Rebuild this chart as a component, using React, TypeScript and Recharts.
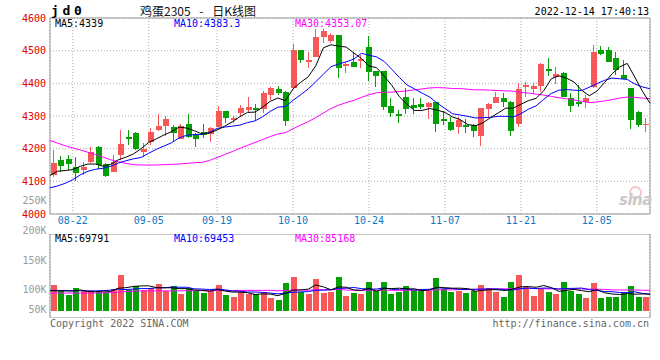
import React from "react";
import {
  ComposedChart,
  Bar,
  Line,
  XAxis,
  YAxis,
  CartesianGrid,
  ReferenceArea,
} from "recharts";

const UP = "#f65858";
const DOWN = "#06a006";
const MONO = "'DejaVu Sans Mono', monospace";

const dates = [
  "08-17", "08-18", "08-19", "08-22", "08-23", "08-24", "08-25", "08-26", "08-29", "08-30",
  "08-31", "09-01", "09-02", "09-05", "09-06", "09-07", "09-08", "09-09", "09-13", "09-14",
  "09-15", "09-16", "09-19", "09-20", "09-21", "09-22", "09-23", "09-26", "09-27", "09-28",
  "09-29", "09-30", "10-10", "10-11", "10-12", "10-13", "10-14", "10-17", "10-18", "10-19",
  "10-20", "10-21", "10-24", "10-25", "10-26", "10-27", "10-28", "10-31", "11-01", "11-02",
  "11-03", "11-04", "11-07", "11-08", "11-09", "11-10", "11-11", "11-14", "11-15", "11-16",
  "11-17", "11-18", "11-21", "11-22", "11-23", "11-24", "11-25", "11-28", "11-29", "11-30",
  "12-01", "12-02", "12-05", "12-06", "12-07", "12-08", "12-09", "12-12", "12-13", "12-14",
];

const opens = [
  4119, 4165, 4169, 4143, 4135, 4159, 4205, 4153, 4130, 4181,
  4236, 4249, 4191, 4219, 4257, 4269, 4265, 4231, 4274, 4245,
  4250, 4245, 4267, 4316, 4288, 4310, 4318, 4323, 4320, 4364,
  4383, 4374, 4387, 4502, 4466, 4482, 4541, 4531, 4548, 4453,
  4466, 4469, 4512, 4439, 4439, 4331, 4306, 4357, 4334, 4337,
  4327, 4342, 4290, 4281, 4265, 4272, 4272, 4240, 4320, 4341,
  4354, 4344, 4276, 4390, 4383, 4393, 4444, 4418, 4431, 4354,
  4344, 4344, 4390, 4502, 4502, 4479, 4426, 4385, 4313, 4272,
];

const highs = [
  4196, 4178, 4181, 4173, 4159, 4206, 4208, 4155, 4181, 4257,
  4257, 4252, 4216, 4262, 4306, 4300, 4272, 4274, 4306, 4249,
  4276, 4265, 4331, 4316, 4300, 4334, 4357, 4336, 4377, 4390,
  4393, 4377, 4520, 4502, 4495, 4566, 4566, 4553, 4548, 4466,
  4497, 4487, 4545, 4439, 4439, 4354, 4318, 4385, 4354, 4354,
  4344, 4344, 4316, 4296, 4298, 4291, 4276, 4326, 4339, 4374,
  4369, 4347, 4400, 4405, 4402, 4463, 4477, 4449, 4436, 4369,
  4395, 4364, 4517, 4514, 4512, 4497, 4471, 4387, 4316, 4293,
];

const lows = [
  4114, 4130, 4135, 4102, 4119, 4155, 4137, 4114, 4128, 4165,
  4211, 4196, 4176, 4211, 4255, 4239, 4221, 4231, 4232, 4204,
  4232, 4221, 4265, 4278, 4278, 4298, 4313, 4286, 4308, 4349,
  4364, 4269, 4385, 4461, 4446, 4480, 4522, 4522, 4417, 4431,
  4451, 4446, 4408, 4390, 4318, 4298, 4280, 4306, 4306, 4320,
  4291, 4252, 4272, 4255, 4245, 4249, 4237, 4209, 4293, 4339,
  4327, 4239, 4267, 4357, 4367, 4374, 4422, 4397, 4359, 4313,
  4327, 4323, 4385, 4487, 4464, 4426, 4412, 4260, 4267, 4252,
];

const closes = [
  4157, 4147, 4153, 4127, 4145, 4191, 4150, 4117, 4159, 4214,
  4231, 4200, 4198, 4252, 4269, 4291, 4249, 4270, 4235, 4231,
  4242, 4263, 4316, 4295, 4295, 4323, 4327, 4318, 4371, 4387,
  4371, 4286, 4502, 4471, 4471, 4541, 4560, 4548, 4448, 4458,
  4451, 4473, 4436, 4423, 4329, 4308, 4301, 4320, 4326, 4329,
  4339, 4274, 4285, 4257, 4288, 4267, 4255, 4326, 4337, 4359,
  4344, 4255, 4383, 4395, 4392, 4459, 4439, 4429, 4359, 4332,
  4336, 4356, 4497, 4489, 4466, 4441, 4413, 4288, 4272, 4276,
];

const ma5 = [
  4118, 4131, 4133, 4136, 4146, 4153, 4153, 4146, 4152, 4166,
  4174, 4184, 4200, 4219, 4230, 4242, 4252, 4266, 4263, 4255,
  4245, 4248, 4257, 4269, 4282, 4298, 4311, 4312, 4327, 4345,
  4355, 4347, 4383, 4403, 4420, 4454, 4509, 4518, 4514, 4511,
  4493, 4476, 4453, 4448, 4422, 4394, 4359, 4336, 4317, 4317,
  4323, 4318, 4311, 4297, 4289, 4274, 4270, 4279, 4295, 4309,
  4324, 4324, 4336, 4347, 4354, 4377, 4414, 4423, 4416, 4404,
  4379, 4362, 4376, 4402, 4429, 4450, 4461, 4419, 4376, 4339,
];

const ma10 = [
  4080, 4086, 4094, 4105, 4120, 4131, 4137, 4140, 4146, 4156,
  4163, 4169, 4173, 4186, 4198, 4208, 4218, 4233, 4241, 4243,
  4244, 4250, 4262, 4266, 4269, 4272, 4280, 4285, 4298, 4314,
  4327, 4329, 4348, 4365, 4383, 4405, 4428, 4451, 4459, 4466,
  4474, 4492, 4486, 4481, 4467, 4443, 4418, 4395, 4383, 4370,
  4358, 4339, 4323, 4307, 4303, 4299, 4294, 4295, 4296, 4299,
  4299, 4297, 4307, 4321, 4331, 4351, 4369, 4379, 4381, 4379,
  4378, 4388, 4399, 4409, 4416, 4414, 4412, 4398, 4389, 4383.3,
];

const ma30 = [
  4225, 4217, 4209, 4202, 4196, 4189, 4182, 4174, 4166, 4160,
  4155, 4151, 4150, 4150, 4150, 4151, 4152, 4153, 4155, 4157,
  4158, 4164, 4173, 4182, 4191, 4201, 4210, 4219, 4228, 4237,
  4245, 4249, 4261, 4272, 4283, 4295, 4309, 4323, 4333, 4341,
  4348, 4357, 4365, 4371, 4373, 4373, 4375, 4377, 4380, 4383,
  4386, 4387, 4386, 4384, 4384, 4382, 4380, 4380, 4379, 4378,
  4377, 4376, 4372, 4370, 4367, 4364, 4360, 4356, 4353, 4349,
  4345, 4341, 4343, 4346, 4350, 4355, 4358, 4357, 4355, 4353.07,
];

const volumes = [
  107000, 83000, 66000, 95000, 83000, 77000, 77000, 77000, 91000, 149000,
  87000, 103000, 87000, 94000, 112000, 83000, 103000, 70000, 94000, 83000,
  76000, 83000, 107000, 66000, 58000, 77000, 70000, 70000, 78000, 54000,
  45000, 116000, 140000, 80000, 70000, 132000, 76000, 80000, 140000, 62000,
  74000, 70000, 120000, 83000, 120000, 70000, 78000, 103000, 87000, 83000,
  83000, 136000, 91000, 78000, 83000, 74000, 83000, 107000, 95000, 78000,
  58000, 120000, 149000, 99000, 63000, 95000, 78000, 70000, 120000, 83000,
  70000, 54000, 116000, 54000, 58000, 58000, 74000, 103000, 58000, 58000,
];

const volMa5 = [
  84000, 83000, 83000, 82000, 86800, 80800, 79600, 81800, 81000, 94200,
  96200, 101400, 103400, 104000, 96600, 95800, 95800, 92400, 92400, 86600,
  85200, 81200, 88600, 83000, 78000, 78200, 75600, 68200, 70600, 69800,
  63400, 72600, 86600, 87000, 90200, 107600, 99600, 87600, 99600, 98000,
  86400, 85200, 93200, 81800, 93400, 92600, 94200, 90800, 91600, 84200,
  86800, 98400, 96000, 94200, 94200, 92400, 81800, 85000, 88400, 87400,
  84200, 91600, 100000, 100800, 97800, 105200, 96800, 81000, 85200, 89200,
  84200, 79400, 88600, 75400, 70400, 68000, 72000, 69400, 70200, 69791,
];

const volMa10 = [
  85000, 85000, 84000, 84000, 84000, 83000, 83000, 84000, 86000, 90500,
  88500, 90500, 92600, 92500, 95400, 96000, 98600, 97900, 98200, 91600,
  90500, 88500, 90500, 87700, 82300, 81700, 78400, 78400, 76800, 73900,
  70800, 74100, 77400, 78800, 80000, 85500, 86100, 87100, 93300, 94100,
  97000, 92400, 90400, 90700, 95700, 89500, 89700, 92000, 86700, 88800,
  89700, 96300, 93400, 92900, 89200, 89600, 90100, 90500, 91300, 90800,
  88300, 86700, 92500, 94600, 92600, 94700, 94200, 90500, 93000, 93500,
  94700, 88100, 84800, 80300, 79800, 76100, 75700, 79000, 72800, 69453,
];

const volMa30 = [
  74000, 74000, 74000, 74000, 74000, 74000, 74000, 75000, 76000, 78000,
  80000, 82000, 83000, 83000, 83000, 83000, 83000, 83000, 84000, 84000,
  84000, 84000, 84000, 84000, 84000, 85000, 85000, 85000, 85000, 85300,
  83300, 84400, 86800, 86300, 85900, 87700, 87700, 87800, 89400, 86500,
  86100, 85000, 86100, 85700, 86000, 85600, 84700, 85800, 85600, 85600,
  85800, 87600, 87100, 87500, 88300, 88200, 88600, 89900, 90400, 91200,
  91700, 91800, 92100, 92700, 92500, 91300, 91300, 91000, 90300, 91000,
  90900, 90400, 90200, 89300, 87200, 86800, 86700, 86700, 85700, 85168,
];

// indices into dates where the date labels / vertical grid lines sit
const tickIdx = [3, 13, 22, 32, 42, 52, 62, 72];
const priceTicks = [4000, 4100, 4200, 4300, 4400, 4500, 4600];
const volGridTicks = [57750, 144500, 231250];
const volAxisLabels = ["250K", "200K", "150K", "100K", "50K"];
const volAxisLabelY = [201, 231, 261, 290, 310];

const rows = dates.map((date, i) => ({
  idx: i,
  date,
  open: opens[i],
  high: highs[i],
  low: lows[i],
  close: closes[i],
  range: [lows[i], highs[i]],
  vol: volumes[i],
  ma5: ma5[i],
  ma10: ma10[i],
  ma30: ma30[i],
  vma5: volMa5[i],
  vma10: volMa10[i],
  vma30: volMa30[i],
}));

const Candle = (props: any) => {
  const { x, y, width, height, payload } = props;
  if (!payload || height == null) return null;
  const { open, close, high, low } = payload;
  const color = close >= open ? UP : DOWN;
  const k = high === low ? 0 : height / (high - low);
  const top = y + (high - Math.max(open, close)) * k;
  const bot = y + (high - Math.min(open, close)) * k;
  const left = Math.floor(x);
  const w = Math.round(width);
  const cx = left + 2.5;
  return (
    <g shapeRendering="crispEdges">
      <line x1={cx} x2={cx} y1={y} y2={y + height} stroke={color} strokeWidth={1} />
      <rect x={left} y={top} width={w} height={Math.max(1, bot - top)} fill={color} />
    </g>
  );
};

const VolBar = (props: any) => {
  const { x, y, width, height, payload } = props;
  if (!payload || height == null) return null;
  const color = payload.close >= payload.open ? UP : DOWN;
  return (
    <rect
      x={Math.floor(x)}
      y={y}
      width={Math.round(width)}
      height={height}
      fill={color}
      shapeRendering="crispEdges"
    />
  );
};

const Txt = ({
  x,
  y,
  color = "#000",
  size = 10,
  anchor = "start",
  font = MONO,
  bold = false,
  style = {},
  children,
}: any) => (
  <div
    style={{
      position: "absolute",
      left: x,
      top: y,
      transform: `translate(${anchor === "end" ? "-100%" : "0"}, -50%)`,
      color,
      fontSize: size,
      lineHeight: `${size}px`,
      fontFamily: font,
      fontWeight: bold ? 700 : 400,
      whiteSpace: "pre",
      ...style,
    }}
  >
    {children}
  </div>
);

const gridStroke = "#aaa";
const borderStroke = "#999";

export default function App() {
  return (
    <div
      style={{
        position: "absolute",
        left: 0,
        top: 0,
        width: 660,
        height: 360,
        background: "#fff",
        overflow: "hidden",
      }}
    >
      <div style={{ position: "absolute", left: 0, top: 0 }}>
        <ComposedChart
          width={660}
          height={230}
          data={rows}
          margin={{ top: 18, right: 10, bottom: 0, left: 0 }}
        >
          <CartesianGrid xAxisId="l" stroke={gridStroke} strokeDasharray="1 2" />
          <XAxis
            xAxisId="l"
            dataKey="idx"
            type="number"
            domain={[0, 79]}
            ticks={tickIdx}
            interval={0}
            tickFormatter={(v: number) => dates[v]}
            height={16}
            axisLine={false}
            tickLine={false}
            tickSize={0}
            tickMargin={3}
            tick={{ fill: "#0a78c8", fontSize: 10, fontFamily: MONO }}
          />
          <XAxis xAxisId="c" dataKey="date" type="category" hide height={0} tick={false} />
          <YAxis
            domain={[4000, 4600]}
            ticks={priceTicks}
            width={50}
            axisLine={false}
            tickLine={false}
            tickSize={0}
            tickMargin={4}
            allowDataOverflow
            tick={{ fill: "#e00000", fontSize: 10, fontFamily: MONO }}
          />
          <ReferenceArea
            xAxisId="l"
            x1={0}
            x2={79}
            y1={4000}
            y2={4600}
            fill="none"
            stroke={borderStroke}
            ifOverflow="visible"
          />
          <Bar
            xAxisId="c"
            dataKey="range"
            barSize={6}
            shape={(p: any) => <Candle {...p} />}
            isAnimationActive={false}
          />
          <Line xAxisId="l" dataKey="ma30" stroke="#ff00ff" strokeWidth={1} dot={false} isAnimationActive={false} />
          <Line xAxisId="l" dataKey="ma10" stroke="#0000ff" strokeWidth={1} dot={false} isAnimationActive={false} />
          <Line xAxisId="l" dataKey="ma5" stroke="#000000" strokeWidth={1} dot={false} isAnimationActive={false} />
        </ComposedChart>
      </div>

      <div style={{ position: "absolute", left: 0, top: 234 }}>
        <ComposedChart
          width={660}
          height={84}
          data={rows}
          margin={{ top: 0, right: 10, bottom: 0, left: 50 }}
        >
          <CartesianGrid xAxisId="l" stroke={gridStroke} strokeDasharray="1 2" />
          <XAxis
            xAxisId="l"
            dataKey="idx"
            type="number"
            domain={[0, 79]}
            ticks={tickIdx}
            hide
            height={0}
            tick={false}
          />
          <XAxis xAxisId="c" dataKey="date" type="category" hide height={0} tick={false} />
          <YAxis domain={[-29000, 318000]} ticks={volGridTicks} hide tick={false} allowDataOverflow />
          <ReferenceArea
            xAxisId="l"
            x1={0}
            x2={79}
            y1={-29000}
            y2={318000}
            fill="none"
            stroke={borderStroke}
            ifOverflow="visible"
          />
          <Bar
            xAxisId="c"
            dataKey="vol"
            barSize={6}
            shape={(p: any) => <VolBar {...p} />}
            isAnimationActive={false}
          />
          <Line xAxisId="l" dataKey="vma30" stroke="#ff00ff" strokeWidth={1} dot={false} isAnimationActive={false} />
          <Line xAxisId="l" dataKey="vma10" stroke="#0000ff" strokeWidth={1} dot={false} isAnimationActive={false} />
          <Line xAxisId="l" dataKey="vma5" stroke="#000000" strokeWidth={1} dot={false} isAnimationActive={false} />
        </ComposedChart>
      </div>

      {/* header */}
      <Txt x={51} y={10} size={13} bold style={{ letterSpacing: 3.7 }}>jd0</Txt>
      <Txt x={140} y={10.5} size={12} font="'Noto Sans CJK SC', sans-serif" color="#111" style={{ wordSpacing: 6 }}>
        鸡蛋2305 - 日K线图
      </Txt>
      <Txt x={649} y={12} anchor="end">2022-12-14 17:40:13</Txt>

      {/* price legend */}
      <Txt x={55} y={23.5}>MA5:4339</Txt>
      <Txt x={174} y={23.5} color="#0000ff">MA10:4383.3</Txt>
      <Txt x={295} y={23.5} color="#ff00ff">MA30:4353.07</Txt>

      {/* volume legend */}
      <Txt x={55} y={239}>MA5:69791</Txt>
      <Txt x={174} y={239} color="#0000ff">MA10:69453</Txt>
      <Txt x={295} y={239} color="#ff00ff">MA30:85168</Txt>

      {/* volume axis labels */}
      {volAxisLabels.map((t, i) => (
        <Txt key={t} x={46.5} y={volAxisLabelY[i]} anchor="end" color="#9a9a9a">
          {t}
        </Txt>
      ))}

      {/* watermark */}
      <div
        style={{
          position: "absolute",
          left: 629,
          top: 186,
          width: 9,
          height: 9,
          borderRadius: "50%",
          border: "2px solid #f2b8b8",
          opacity: 0.8,
        }}
      />
      <Txt
        x={619}
        y={200}
        size={15}
        bold
        font="'DejaVu Sans', sans-serif"
        color="#c8c8c8"
        style={{ fontStyle: "italic", letterSpacing: -0.5 }}
      >
        sina
      </Txt>

      {/* footer */}
      <Txt x={50} y={323.5} color="#666">Copyright 2022 SINA.COM</Txt>
      <Txt x={649} y={323.5} anchor="end" color="#666">http://finance.sina.com.cn</Txt>
    </div>
  );
}
